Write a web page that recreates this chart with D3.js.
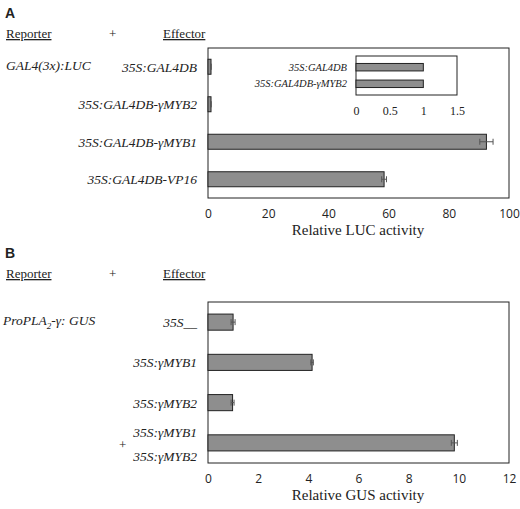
<!DOCTYPE html>
<html>
<head>
<meta charset="utf-8">
<script src="https://d3js.org/d3.v7.min.js"></script>
<style>
  body { margin: 0; background: white; }
  text { font-family: "Liberation Serif", serif; fill: #222; }
  .tick text { font-family: "Open Sans", sans-serif; font-size: 12px; fill: #222; }
</style>
</head>
<body>
<script>
// Panel A data
var aLabels = ["35S:GAL4DB", "35S:GAL4DB-γMYB2", "35S:GAL4DB-γMYB1", "35S:GAL4DB-VP16"];
var aValues = [1, 1, 92.5, 58.5];
var aErrors = [0, 0, 2.2, 0.8];
var aTicks = [0, 20, 40, 60, 80, 100];
var insetLabels = ["35S:GAL4DB", "35S:GAL4DB-γMYB2"];
var insetValues = [1, 1];
var insetTicks = [0, 0.5, 1, 1.5];
// Panel B data
var bLabels = ["35S__", "35S:γMYB1", "35S:γMYB2", "35S:γMYB1+35S:γMYB2"];
var bValues = [1.0, 4.15, 0.98, 9.82];
var bErrors = [0.08, 0.05, 0.06, 0.12];
var bTicks = [0, 2, 4, 6, 8, 10, 12];

var w = 520, h = 509;
var svg = d3.select("body").append("svg").attr("width", w).attr("height", h);
var gray = "#8e8e8e";

function header(y, letter) {
  svg.append("text").attr("x", 5).attr("y", y - 20).text(letter)
    .style("font-family", "Liberation Sans, sans-serif").style("font-weight", "bold").style("font-size", "14px");
  svg.append("text").attr("x", 6).attr("y", y).style("font-size", "13px")
    .style("text-decoration", "underline").text("Reporter");
  svg.append("text").attr("x", 109).attr("y", y).style("font-size", "13px").text("+");
  svg.append("text").attr("x", 163).attr("y", y).style("font-size", "13px")
    .style("text-decoration", "underline").text("Effector");
}

function panel(top, bottom, labels, values, errors, ticks, domainMax, title, multi) {
  var x = d3.scaleLinear().domain([0, domainMax]).range([208, 509]);
  var y = d3.scaleBand().domain(labels).range([top, bottom]).paddingInner(0.6).paddingOuter(0.3);
  svg.append("rect").attr("x", 208).attr("y", top).attr("width", 301).attr("height", bottom - top)
    .attr("fill", "none").attr("stroke", "#222").attr("stroke-width", 1);
  svg.selectAll(null).data(labels).enter().append("rect")
    .attr("x", x(0)).attr("y", d => y(d)).attr("height", y.bandwidth())
    .attr("width", (d, i) => x(values[i]) - x(0))
    .attr("fill", gray).attr("stroke", "#222");
  svg.selectAll(null).data(labels).enter().append("path")
    .attr("d", (d, i) => {
      var yc = y(d) + y.bandwidth() / 2, x1 = x(values[i] - errors[i]), x2 = x(values[i] + errors[i]);
      return "M" + x1 + "," + yc + "H" + x2 + "M" + x1 + "," + (yc - 3) + "V" + (yc + 3) + "M" + x2 + "," + (yc - 3) + "V" + (yc + 3);
    })
    .attr("stroke", "#555").attr("fill", "none");
  labels.forEach(function(d, i) {
    var yc = y(d) + y.bandwidth() / 2;
    if (multi && d.indexOf("+") > 0) {
      var parts = d.split("+");
      svg.append("text").attr("x", 197).attr("y", yc - 6).attr("text-anchor", "end")
        .style("font-style", "italic").style("font-size", "13.5px").text(parts[0]);
      svg.append("text").attr("x", 197).attr("y", yc + 18).attr("text-anchor", "end")
        .style("font-style", "italic").style("font-size", "13.5px").text(parts[1]);
      svg.append("text").attr("x", 119).attr("y", yc + 6).style("font-size", "13px").text("+");
    } else {
      svg.append("text").attr("x", 197).attr("y", yc + 5).attr("text-anchor", "end")
        .style("font-style", "italic").style("font-size", "13.5px").text(d);
    }
  });
  var ax = svg.append("g").attr("transform", "translate(0," + (bottom + 3) + ")")
    .call(d3.axisBottom(x).tickValues(ticks).tickSize(0).tickPadding(8));
  ax.select(".domain").remove();
  svg.append("text").attr("x", 358).attr("y", bottom + 37).attr("text-anchor", "middle")
    .style("font-size", "15px").text(title);
  return y;
}

header(38, "A");
svg.append("text").attr("x", 6).attr("y", 70).style("font-style", "italic").style("font-size", "13.5px").text("GAL4(3x):LUC");
panel(48, 198, aLabels, aValues, aErrors, aTicks, 100, "Relative LUC activity", false);

// inset
var ix = d3.scaleLinear().domain([0, 1.5]).range([356, 457]);
var iy = d3.scaleBand().domain(insetLabels).range([56, 95]).paddingInner(0.55).paddingOuter(0.45);
svg.append("rect").attr("x", 356).attr("y", 56).attr("width", 101).attr("height", 39)
  .attr("fill", "white").attr("stroke", "#222");
svg.selectAll(null).data(insetLabels).enter().append("rect")
  .attr("x", ix(0)).attr("y", d => iy(d)).attr("height", iy.bandwidth())
  .attr("width", (d, i) => ix(insetValues[i]) - ix(0)).attr("fill", gray).attr("stroke", "#222");
svg.selectAll(null).data(insetLabels).enter().append("text")
  .attr("x", 347).attr("y", d => iy(d) + iy.bandwidth() / 2 + 3.5).attr("text-anchor", "end")
  .style("font-style", "italic").style("font-size", "10.5px").text(d => d);
var iax = svg.append("g").attr("transform", "translate(0,100)")
  .call(d3.axisBottom(ix).tickValues(insetTicks).tickSize(0).tickPadding(6).tickFormat(d3.format("")));
iax.select(".domain").remove();
iax.selectAll("text").style("font-family", "Liberation Serif, serif").style("font-size", "12px");

header(278, "B");
var pro = svg.append("text").attr("x", 3).attr("y", 325).style("font-style", "italic").style("font-size", "13.5px");
pro.append("tspan").text("ProPLA");
pro.append("tspan").attr("dy", 4).style("font-size", "9px").text("2");
pro.append("tspan").attr("dy", -4).text("-γ: GUS");
panel(302, 463, bLabels, bValues, bErrors, bTicks, 12, "Relative GUS activity", true);
</script>
</body>
</html>
